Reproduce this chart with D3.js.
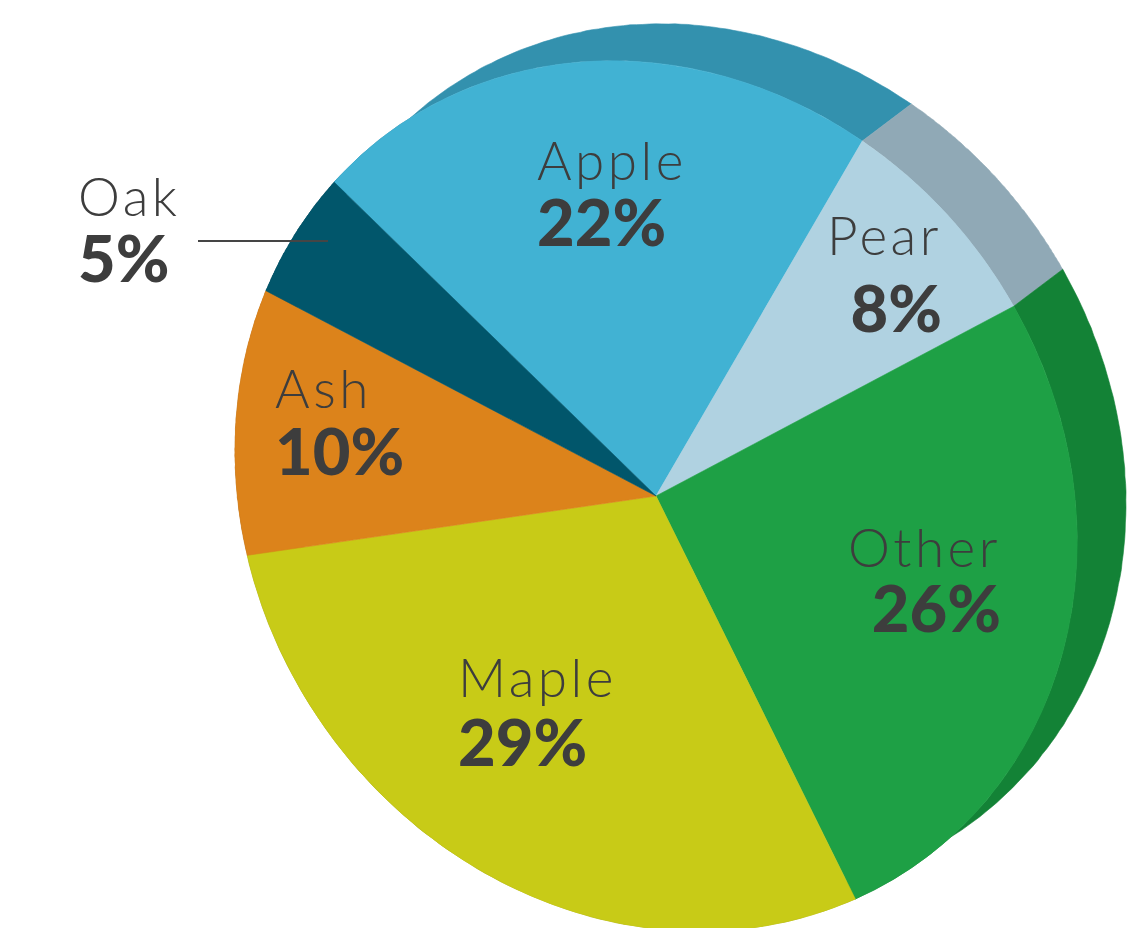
<!DOCTYPE html>
<html>
<head>
<meta charset="utf-8">
<script src="https://cdn.jsdelivr.net/npm/d3@7"></script>
<style>
  body { margin: 0; background: #fff; }
  svg { display: block; }
</style>
</head>
<body>
<svg id="chart" width="1142" height="928"></svg>
<script>
// data
const categories = ["Apple", "Pear", "Other", "Maple", "Ash", "Oak"];
const values = [22, 8, 26, 29, 10, 5];
const pctLabels = ["22%", "8%", "26%", "29%", "10%", "5%"];
const frontColors = ["#41b2d3", "#b0d2e1", "#1ea045", "#c8cb17", "#dc831b", "#01566b"];
const sideColors = ["#3391ae", "#90a9b6", "#138236", "#a8aa10", "#b86d14", "#01485a"];

// label layout (screen px)
const labelLayout = [
    { x: 537, nameY: 180, pctY: 246, anchor: "start" },
    { x: 942, nameY: 255, pctY: 332, anchor: "end" },
    { x: 1001, nameY: 567, pctY: 632, anchor: "end" },
    { x: 458, nameY: 697, pctY: 766, anchor: "start" },
    { x: 275, nameY: 408, pctY: 475, anchor: "start" },
    { x: 78, nameY: 216, pctY: 282, anchor: "start" }
];

const svg = d3.select("#chart");
const cx = 656, cy = 496;
const rx = 451, ry = 404, tilt = 53.8 * Math.PI / 180;
const depth = [49, -37]; // offset of the back face on screen

// unit circle -> tilted ellipse
const A = rx * Math.cos(tilt), B = rx * Math.sin(tilt), C = -ry * Math.sin(tilt), D = ry * Math.cos(tilt);
const det = A * D - B * C;
const ox = (D * depth[0] - C * depth[1]) / det, oy = (-B * depth[0] + A * depth[1]) / det;

const start = 259.4 * Math.PI / 180;
const pie = d3.pie().sort(null).startAngle(start).endAngle(start + 2 * Math.PI);
const arcs = pie(values);
const arc = d3.arc().innerRadius(0).outerRadius(1);

const g = svg.append("g").attr("transform", `matrix(${A},${B},${C},${D},${cx},${cy})`);

function sidePath(d) {
    const n = 90, pts = [];
    for (let i = 0; i <= n; i++) {
        const t = d.startAngle + (d.endAngle - d.startAngle) * i / n;
        pts.push([Math.sin(t), -Math.cos(t)]);
    }
    const back = pts.slice().reverse().map(p => [p[0] + ox, p[1] + oy]);
    return d3.line()(pts.concat(back)) + "Z";
}

// extruded sides
g.selectAll("path.side")
    .data(arcs)
    .enter().append("path")
    .attr("class", "side")
    .attr("d", sidePath)
    .attr("fill", (d, i) => sideColors[i])
    .attr("stroke", (d, i) => sideColors[i])
    .attr("stroke-width", 0.6)
    .attr("vector-effect", "non-scaling-stroke");

// front face
g.selectAll("path.slice")
    .data(arcs)
    .enter().append("path")
    .attr("class", "slice")
    .attr("d", arc)
    .attr("fill", (d, i) => frontColors[i])
    .attr("stroke", (d, i) => frontColors[i])
    .attr("stroke-width", 0.6)
    .attr("vector-effect", "non-scaling-stroke");

// Oak leader line
svg.append("line")
    .attr("x1", 198).attr("x2", 328)
    .attr("y1", 241).attr("y2", 241)
    .attr("stroke", "#454545")
    .attr("stroke-width", 2);

const labels = svg.append("g").attr("fill", "#3d3d3d").style("font-family", "Lato, 'Open Sans', sans-serif");
categories.forEach((c, i) => {
    const L = labelLayout[i];
    labels.append("text")
        .attr("x", L.x).attr("y", L.nameY)
        .attr("text-anchor", L.anchor)
        .style("font-size", "53px").style("font-weight", 300)
        .style("letter-spacing", "3.5px")
        .text(c);
    labels.append("text")
        .attr("x", L.x).attr("y", L.pctY)
        .attr("text-anchor", L.anchor)
        .style("font-size", "65px").style("font-weight", 900)
        .text(pctLabels[i]);
});
</script>
</body>
</html>
